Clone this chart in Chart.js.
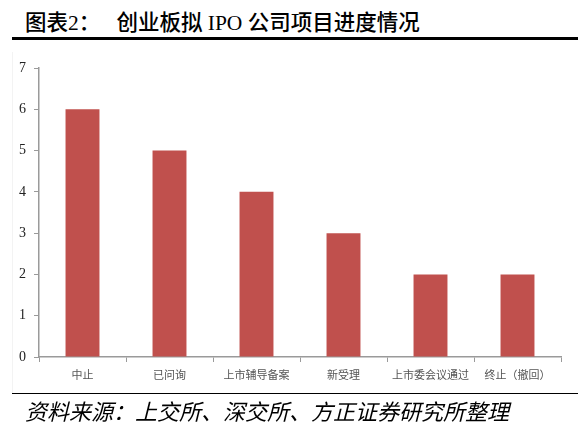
<!DOCTYPE html>
<html>
<head>
<meta charset="utf-8">
<script src="https://cdn.jsdelivr.net/npm/chart.js@4/dist/chart.umd.min.js"></script>
<style>
  html, body { margin: 0; padding: 0; background: #fff; }
  body { width: 578px; height: 426px; position: relative; overflow: hidden; }
  #title {
    position: absolute; left: 25px; top: 5px;
    font-family: "Liberation Serif", "Noto Sans CJK SC", serif;
    font-weight: 500; font-size: 21.5px; color: #000; white-space: pre;
  }
  #rule-top { position: absolute; left: 12px; right: 0; top: 37px; height: 3px; background: #000; }
  #frame { position: absolute; left: 12px; top: 52px; width: 1px; height: 341px; background: #f3f3f3; }
  #rule-bottom { position: absolute; left: 12px; right: 0; top: 393px; height: 1px; background: #000; }
  #source {
    position: absolute; left: 25px; top: 394px;
    font-family: "Noto Sans CJK SC", serif; font-style: italic;
    font-size: 22px; color: #000;
  }
  #wrap { position: absolute; left: 0; top: 0; width: 578px; height: 426px; }
</style>
</head>
<body>
<div id="title">图表2：   创业板拟 IPO 公司项目进度情况</div>
<div id="rule-top"></div>
<div id="frame"></div>
<div id="wrap"><canvas id="chart"></canvas></div>
<div id="rule-bottom"></div>
<div id="source">资料来源：上交所、深交所、方正证券研究所整理</div>
<script>
// 创业板拟IPO公司项目进度
const categories = ['中止', '已问询', '上市辅导备案', '新受理', '上市委会议通过', '终止（撤回）'];
const counts = [6, 5, 4, 3, 2, 2];
const yTicks = [0, 1, 2, 3, 4, 5, 6, 7];

const BAR_COLOR = '#C0504D';
const AXIS_COLOR = '#9a9a9a';

new Chart(document.getElementById('chart'), {
  type: 'bar',
  data: {
    labels: categories,
    datasets: [{
      data: counts,
      backgroundColor: BAR_COLOR,
      borderWidth: 0,
      barPercentage: 0.39,
      categoryPercentage: 1.0,
    }],
  },
  options: {
    responsive: true,
    maintainAspectRatio: false,
    animation: false,
    layout: { padding: { left: 0, right: 17, top: 68, bottom: 39 } },
    plugins: {
      legend: { display: false },
      tooltip: { enabled: false },
    },
    scales: {
      x: {
        offset: true,
        grid: {
          display: true,
          drawOnChartArea: false,
          drawTicks: true,
          tickLength: 5,
          color: AXIS_COLOR,
          offset: true,
        },
        border: { display: true, color: AXIS_COLOR, width: 1.5 },
        ticks: {
          color: '#555',
          font: { family: '"Noto Sans CJK SC", sans-serif', size: 11 },
          padding: 6,
          maxRotation: 0,
          autoSkip: false,
        },
        afterFit: (scale) => { scale.height = 30; },
      },
      y: {
        min: 0,
        max: 7,
        afterBuildTicks: (scale) => { scale.ticks = yTicks.map(v => ({ value: v })); },
        grid: {
          display: true,
          drawOnChartArea: false,
          drawTicks: true,
          tickLength: 5,
          color: AXIS_COLOR,
        },
        border: { display: true, color: AXIS_COLOR, width: 1.5 },
        ticks: {
          color: '#222',
          font: { family: '"Liberation Serif", serif', size: 14 },
          padding: 8,
        },
        afterFit: (scale) => { scale.width = 39; },
      },
    },
  },
});
</script>
</body>
</html>
